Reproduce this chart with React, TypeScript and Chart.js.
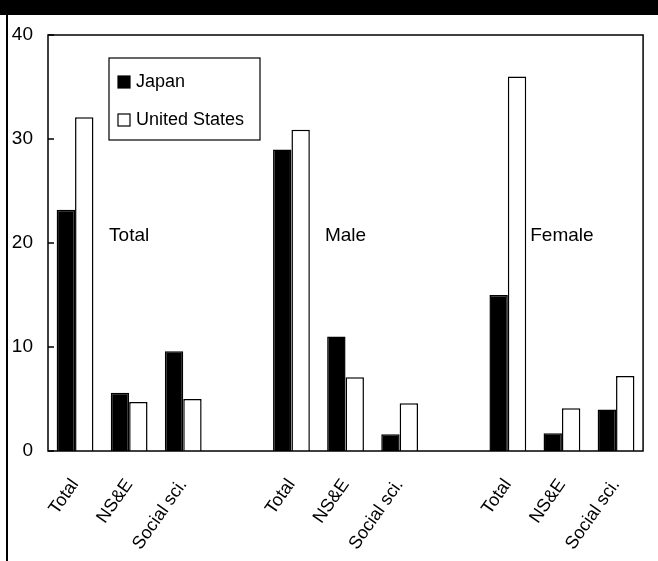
import React, { useEffect, useRef } from "react";
import { Chart, registerables } from "chart.js";

Chart.register(...registerables);

const categories = ["Total", "NS&E", "Social sci.", "", "Total", "NS&E", "Social sci.", "", "Total", "NS&E", "Social sci."];
const japanValues = [23.2, 5.6, 9.6, null, 29.0, 11.0, 1.6, null, 15.0, 1.7, 4.0];
const usValues = [32.1, 4.7, 5.0, null, 30.9, 7.1, 4.6, null, 36.0, 4.1, 7.2];
const seriesNames = ["Japan", "United States"];
const groupLabels = ["Total", "Male", "Female"];
const groupLabelIndex = [1, 5, 9];
const groupLabelValue = 20.7;
const yTicks = [0, 10, 20, 30, 40];

const FONT = "'Liberation Sans', Arial, sans-serif";

const decorPlugin = {
  id: "decor",
  beforeDraw(chart: any) {
    const ctx = chart.ctx;
    ctx.save();
    ctx.fillStyle = "#fff";
    ctx.fillRect(0, 0, chart.width, chart.height);
    ctx.fillStyle = "#000";
    ctx.fillRect(0, 0, chart.width, 15);
    ctx.fillRect(6, 15, 2, chart.height - 15);
    ctx.restore();
  },
  afterDatasetsDraw(chart: any) {
    const ctx = chart.ctx;
    const a = chart.chartArea;
    const xs = chart.scales.x;
    const ys = chart.scales.y;
    ctx.save();
    ctx.strokeStyle = "#000";
    ctx.lineWidth = 1.5;
    ctx.strokeRect(a.left, a.top, a.right - a.left, a.bottom - a.top);
    // inward ticks
    ctx.beginPath();
    yTicks.forEach((v) => {
      const y = ys.getPixelForValue(v);
      ctx.moveTo(a.left, y);
      ctx.lineTo(a.left + 6, y);
    });
    ctx.stroke();
    // group labels
    ctx.fillStyle = "#000";
    ctx.font = `19px ${FONT}`;
    ctx.textAlign = "center";
    ctx.textBaseline = "middle";
    groupLabels.forEach((t, i) => {
      ctx.fillText(t, xs.getPixelForValue(groupLabelIndex[i]), ys.getPixelForValue(groupLabelValue));
    });
    // legend
    const lx = 109, ly = 58, lw = 151, lh = 82;
    ctx.fillStyle = "#fff";
    ctx.fillRect(lx, ly, lw, lh);
    ctx.lineWidth = 1.2;
    ctx.strokeRect(lx, ly, lw, lh);
    ctx.textAlign = "left";
    ctx.font = `18px ${FONT}`;
    const rows = [82, 120];
    chart.data.datasets.forEach((ds: any, i: number) => {
      const cy = rows[i];
      ctx.fillStyle = ds.backgroundColor;
      ctx.fillRect(118, cy - 6, 12, 12);
      ctx.lineWidth = 1.2;
      ctx.strokeStyle = "#000";
      ctx.strokeRect(118, cy - 6, 12, 12);
      ctx.fillStyle = "#000";
      ctx.fillText(ds.label, 136, cy);
    });
    ctx.restore();
  },
};

export default function App() {
  const ref = useRef<HTMLCanvasElement>(null);
  useEffect(() => {
    if (!ref.current) return;
    Chart.defaults.font.family = FONT;
    const chart = new Chart(ref.current, {
      type: "bar",
      data: {
        labels: categories,
        datasets: [
          {
            label: seriesNames[0],
            data: japanValues,
            backgroundColor: "#000",
            borderColor: "#000",
            borderWidth: 1.5,
            categoryPercentage: 0.68,
            barPercentage: 1,
          },
          {
            label: seriesNames[1],
            data: usValues,
            backgroundColor: "#fff",
            borderColor: "#000",
            borderWidth: 1.5,
            categoryPercentage: 0.68,
            barPercentage: 1,
          },
        ] as any,
      },
      options: {
        responsive: false,
        animation: false,
        layout: { padding: { top: 35, right: 6, left: 0, bottom: 0 } },
        plugins: { legend: { display: false }, tooltip: { enabled: false } },
        scales: {
          x: {
            grid: { display: false, drawTicks: false },
            border: { display: false },
            ticks: {
              autoSkip: false,
              minRotation: 55,
              maxRotation: 55,
              padding: 24,
              color: "#000",
              font: { size: 18, family: FONT },
            },
            afterFit(scale: any) {
              scale.height = 110;
            },
          },
          y: {
            min: 0,
            max: 40,
            grid: { display: false, drawTicks: false },
            border: { display: false },
            ticks: {
              stepSize: 10,
              padding: 15,
              color: "#000",
              font: { size: 19, family: FONT },
            },
            afterFit(scale: any) {
              scale.width = 48;
            },
          },
        },
      },
      plugins: [decorPlugin],
    });
    return () => chart.destroy();
  }, []);
  return (
    <div style={{ position: "absolute", left: 0, top: 0, width: 658, height: 561 }}>
      <canvas ref={ref} width={658} height={561} style={{ display: "block" }} />
    </div>
  );
}
